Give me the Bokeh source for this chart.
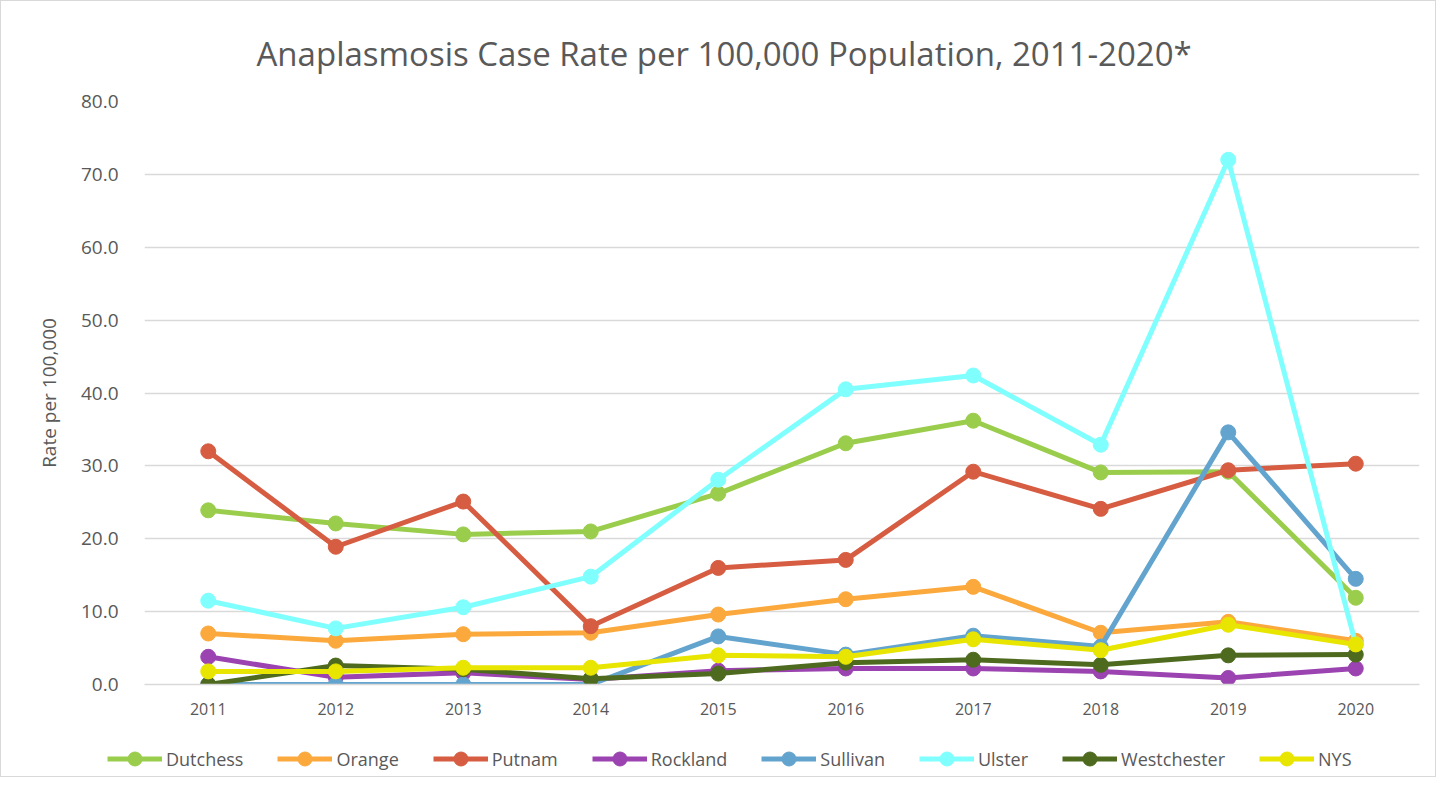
from bokeh.plotting import figure
from bokeh.layouts import column, row
from bokeh.models import FixedTicker, NumeralTickFormatter, Legend, Range1d
from bokeh.embed import file_html
from bokeh.resources import INLINE

years = [2011, 2012, 2013, 2014, 2015, 2016, 2017, 2018, 2019, 2020]
dutchess = [23.9, 22.1, 20.6, 21.0, 26.2, 33.1, 36.2, 29.1, 29.2, 11.9]
orange = [7.0, 6.0, 6.9, 7.1, 9.6, 11.7, 13.4, 7.1, 8.6, 6.0]
putnam = [32.0, 18.9, 25.1, 8.0, 16.0, 17.1, 29.2, 24.1, 29.4, 30.3]
rockland = [3.8, 1.0, 1.6, 0.7, 1.9, 2.2, 2.2, 1.8, 0.9, 2.2]
sullivan = [0.0, 0.0, 0.0, 0.0, 6.6, 4.1, 6.7, 5.2, 34.6, 14.5]
ulster = [11.5, 7.7, 10.6, 14.8, 28.1, 40.5, 42.4, 32.9, 72.0, 5.5]
westchester = [0.0, 2.6, 2.1, 0.8, 1.5, 3.0, 3.4, 2.7, 4.0, 4.1]
nys = [1.8, 1.8, 2.3, 2.3, 4.0, 3.8, 6.2, 4.7, 8.2, 5.5]

series_names = ["Dutchess", "Orange", "Putnam", "Rockland", "Sullivan", "Ulster", "Westchester", "NYS"]
series_values = [dutchess, orange, putnam, rockland, sullivan, ulster, westchester, nys]
series_colors = ["#9ACD4C", "#FBA93D", "#D65D42", "#9B43B0", "#63A4CE", "#80FFFF", "#4E6A1F", "#E8E600"]
y_ticks = [0, 10, 20, 30, 40, 50, 60, 70, 80]

FONT = "Open Sans"
TXT = "#595959"

p = figure(width=1434, height=720, output_backend="svg", toolbar_location=None,
           title="Anaplasmosis Case Rate per 100,000 Population, 2011-2020*",
           x_range=Range1d(2010.5, 2020.5), y_range=Range1d(0, 80),
           min_border_left=143, min_border_right=16, min_border_top=100, min_border_bottom=37)

p.title.align = "left"
p.title.text_font = FONT
p.title.text_font_size = "33px"
p.title.text_font_style = "normal"
p.title.text_color = TXT
p.title.offset = 112
p.title.standoff = 52

p.outline_line_color = None
p.xgrid.grid_line_color = None
p.ygrid.grid_line_color = "#d9d9d9"
p.ygrid.grid_line_width = 1.5

p.yaxis.ticker = FixedTicker(ticks=y_ticks)
p.yaxis.formatter = NumeralTickFormatter(format="0.0")
p.yaxis.axis_line_color = None
p.yaxis.major_tick_line_color = None
p.yaxis.minor_tick_line_color = None
p.yaxis.major_label_text_font = FONT
p.yaxis.major_label_text_font_size = "19px"
p.yaxis.major_label_text_color = TXT
p.yaxis.major_label_standoff = 20
p.yaxis.axis_label = "Rate per 100,000"
p.yaxis.axis_label_text_font = FONT
p.yaxis.axis_label_text_font_size = "19px"
p.yaxis.axis_label_text_font_style = "normal"
p.yaxis.axis_label_text_color = TXT
p.yaxis.axis_label_standoff = 16

p.xaxis.ticker = FixedTicker(ticks=years)
p.xaxis.axis_line_color = "#d9d9d9"
p.xaxis.axis_line_width = 1.5
p.xaxis.major_tick_line_color = None
p.xaxis.minor_tick_line_color = None
p.xaxis.major_label_text_font = FONT
p.xaxis.major_label_text_font_size = "16px"
p.xaxis.major_label_text_color = TXT
p.xaxis.major_label_standoff = 12

for name, vals, col in zip(series_names, series_values, series_colors):
    p.line(years, vals, line_color=col, line_width=5, line_join="round")
    p.scatter(years, vals, size=15, fill_color=col, line_color=col)

# legend strip below the chart (its renderers lie outside its visible ranges)
pl = figure(width=1434, height=55, output_backend="svg", toolbar_location=None,
            x_axis_type=None, y_axis_type=None, x_range=Range1d(0, 1), y_range=Range1d(0, 1),
            min_border=0, min_border_left=0, min_border_right=0, min_border_top=0, min_border_bottom=0)
pl.outline_line_color = None
pl.grid.visible = False
items = []
for name, vals, col in zip(series_names, series_values, series_colors):
    l = pl.line(years, vals, line_color=col, line_width=5)
    s = pl.scatter(years, vals, size=15, fill_color=col, line_color=col)
    items.append((name, [l, s]))
legend = Legend(items=items, orientation="horizontal", location=(106, 0),
                label_text_font=FONT, label_text_font_size="18px", label_text_color=TXT,
                glyph_width=55, glyph_height=35, spacing=34, label_standoff=4,
                border_line_color=None, background_fill_alpha=0, margin=0, padding=0)
pl.add_layout(legend, "center")

layout = column(p, row(pl), spacing=0)
layout.styles = {"border": "1px solid #d9d9d9"}

open("out.html", "w").write(file_html(layout, INLINE))
